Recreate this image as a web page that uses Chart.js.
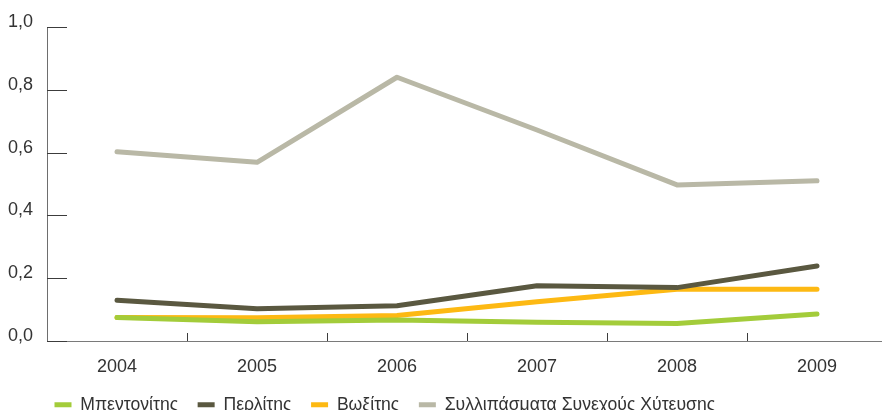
<!DOCTYPE html>
<html>
<head>
<meta charset="utf-8">
<script src="https://cdn.jsdelivr.net/npm/chart.js@4.4.0/dist/chart.umd.min.js"></script>
<style>
  html, body { margin: 0; padding: 0; background: #fff; overflow: hidden; }
  #wrap { width: 882px; height: 410px; overflow: hidden; position: relative; }
  #chart { display: block; }
</style>
</head>
<body>
<div id="wrap"><canvas id="chart" width="887" height="425"></canvas></div>
<script>
const years = ['2004', '2005', '2006', '2007', '2008', '2009'];
const bentonite = [0.075, 0.061, 0.067, 0.060, 0.056, 0.086];
const perlite = [0.130, 0.103, 0.112, 0.176, 0.170, 0.239];
const bauxite = [0.075, 0.074, 0.081, 0.125, 0.165, 0.165];
const castingSludge = [0.603, 0.569, 0.840, 0.672, 0.497, 0.510];
const yTicks = [0, 0.2, 0.4, 0.6, 0.8, 1.0];

const FONT = "'Liberation Sans', Arial, sans-serif";

// short tick marks drawn inside the plot area
const innerTicks = {
  id: 'innerTicks',
  beforeDatasetsDraw(chart) {
    const { ctx, chartArea, scales: { x, y } } = chart;
    ctx.save();
    ctx.strokeStyle = '#3c3c3c';
    ctx.lineWidth = 1;
    y.ticks.forEach((t, i) => {
      const py = Math.round(y.getPixelForTick(i)) + 0.5;
      ctx.beginPath();
      ctx.moveTo(chartArea.left, py);
      ctx.lineTo(chartArea.left + 20, py);
      ctx.stroke();
    });
    for (let i = 1; i < x.ticks.length; i++) {
      const px = Math.round((x.getPixelForTick(i - 1) + x.getPixelForTick(i)) / 2) + 0.5;
      ctx.beginPath();
      ctx.moveTo(px, chartArea.bottom);
      ctx.lineTo(px, chartArea.bottom - 8);
      ctx.stroke();
    }
    ctx.restore();
  }
};

// put the legend where the original has it (partly cut off at the bottom)
const legendPlace = {
  id: 'legendPlace',
  afterLayout(chart) {
    chart.legend.left = 35;
    chart.legend.top = 376.5;
  }
};

function series(label, data, color) {
  return {
    label,
    data,
    borderColor: color,
    backgroundColor: color,
    borderWidth: 5,
    borderCapStyle: 'round',
    borderJoinStyle: 'round',
    pointRadius: 0,
    tension: 0,
    fill: false
  };
}

new Chart(document.getElementById('chart'), {
  type: 'line',
  data: {
    labels: years,
    datasets: [
      series('Μπεντονίτης', bentonite, '#a3cc3a'),
      series('Περλίτης', perlite, '#5a5840'),
      series('Βωξίτης', bauxite, '#fdb913'),
      series('Συλλιπάσματα Συνεχούς Χύτευσης', castingSludge, '#b9b8a6')
    ]
  },
  options: {
    responsive: false,
    animation: false,
    layout: { padding: { top: 27, right: 0, left: 0, bottom: 0 } },
    plugins: {
      legend: {
        position: 'bottom',
        align: 'start',
        maxHeight: 40,
        labels: {
          usePointStyle: true,
          pointStyle: 'line',
          pointStyleWidth: 17,
          padding: 19.5,
          color: '#333',
          font: { family: FONT, size: 17.6 }
        }
      },
      tooltip: { enabled: false }
    },
    scales: {
      x: {
        offset: true,
        afterFit(s) { s.height = 44; },
        grid: { display: true, drawOnChartArea: false, drawTicks: false },
        border: { display: true, color: '#7a7a7a', width: 1 },
        ticks: {
          color: '#333',
          padding: 15,
          maxRotation: 0,
          font: { family: FONT, size: 18 }
        }
      },
      y: {
        min: 0,
        max: 1,
        afterFit(s) { s.width = 47; },
        afterBuildTicks(s) { s.ticks = yTicks.map(v => ({ value: v })); },
        grid: { display: true, drawOnChartArea: false, drawTicks: false },
        border: { display: true, color: '#6e6e6e', width: 1 },
        ticks: {
          color: '#333',
          padding: 14,
          labelOffset: -5,
          font: { family: FONT, size: 18 },
          callback: v => v.toFixed(1).replace('.', ',')
        }
      }
    }
  },
  plugins: [innerTicks, legendPlace]
});
</script>
</body>
</html>
